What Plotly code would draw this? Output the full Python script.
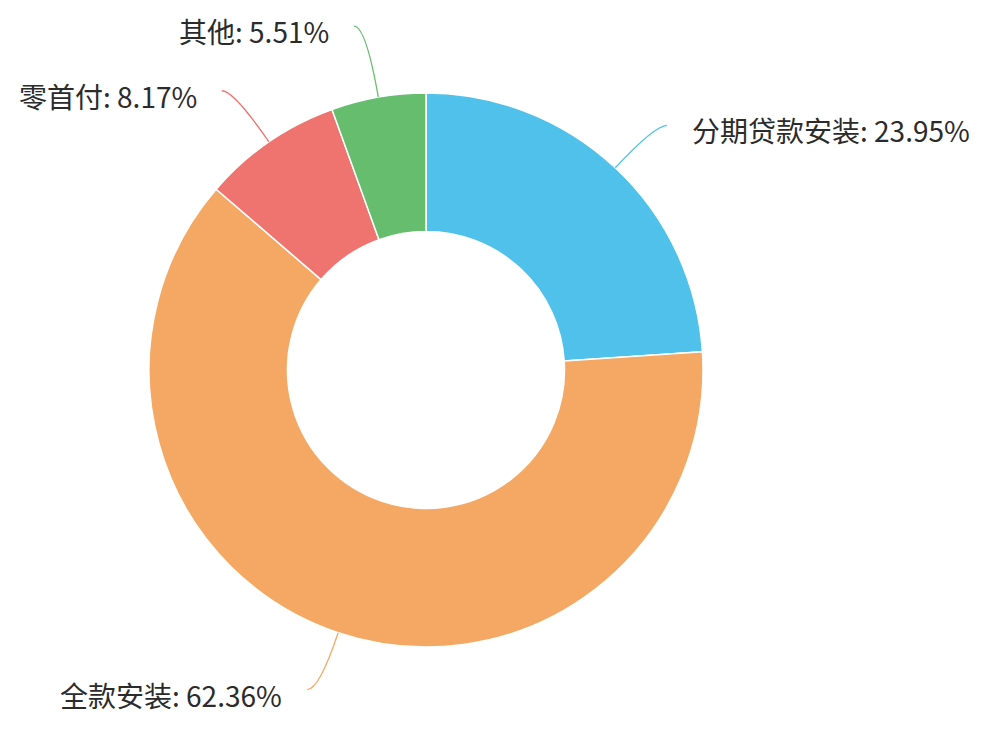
import numpy as np
import plotly.graph_objects as go

# 安装方式占比
labels = ["分期贷款安装", "全款安装", "零首付", "其他"]
values = [23.95, 62.36, 8.17, 5.51]
colors = ["#4FC1EA", "#F5A863", "#EF736E", "#66BD6D"]

W, H = 998, 742
off = 8                            # page body margin
cx, cy, R = 426 - off, 370 - off, 277   # pie centre / radius in px
len1 = [58, 60, 62, 72]            # leader line radial part
len2 = 12                          # leader line horizontal part
gap = 23

def px(x, y):
    return x / W, 1 - y / H

fig = go.Figure()
fig.add_trace(go.Pie(
    labels=labels, values=values, hole=0.5, sort=False, direction="clockwise",
    rotation=0, marker=dict(colors=colors, line=dict(color="white", width=1.5)),
    textinfo="none", hoverinfo="skip", showlegend=False,
    domain=dict(x=[(cx - R) / W, (cx + R) / W], y=[1 - (cy + R) / H, 1 - (cy - R) / H]),
))

total = sum(values)
cum = np.cumsum(values)
shapes, annots = [], []
for i, (lab, v) in enumerate(zip(labels, values)):
    a = np.radians((cum[i] - v / 2) / total * 360)
    dx, dy = np.sin(a), -np.cos(a)
    x0, y0 = cx + R * dx, cy + R * dy
    x1, y1 = cx + (R + len1[i]) * dx, cy + (R + len1[i]) * dy
    side = 1 if dx > 0 else -1
    x2, y2 = x1 + side * len2, y1
    p0, p1, p2 = px(x0, y0), px(x1, y1), px(x2, y2)
    shapes.append(dict(
        type="path", xref="paper", yref="paper",
        path=f"M {p0[0]},{p0[1]} Q {p1[0]},{p1[1]} {p2[0]},{p2[1]}",
        line=dict(color=colors[i], width=1.3),
    ))
    tx, ty = px(x2 + side * gap, y2 + 5)
    annots.append(dict(
        x=tx, y=ty, xref="paper", yref="paper", showarrow=False,
        text=f"{lab}: {v:.2f}%", xanchor="left" if side > 0 else "right", yanchor="middle",
        font=dict(size=28, color="#2b2b2b"),
    ))

fig.update_layout(
    width=W, height=H, margin=dict(l=0, r=0, t=0, b=0),
    paper_bgcolor="white", plot_bgcolor="white",
    font=dict(family="Microsoft YaHei, Noto Sans CJK SC, sans-serif"),
    shapes=shapes, annotations=annots,
)

fig.write_html("out.html")
